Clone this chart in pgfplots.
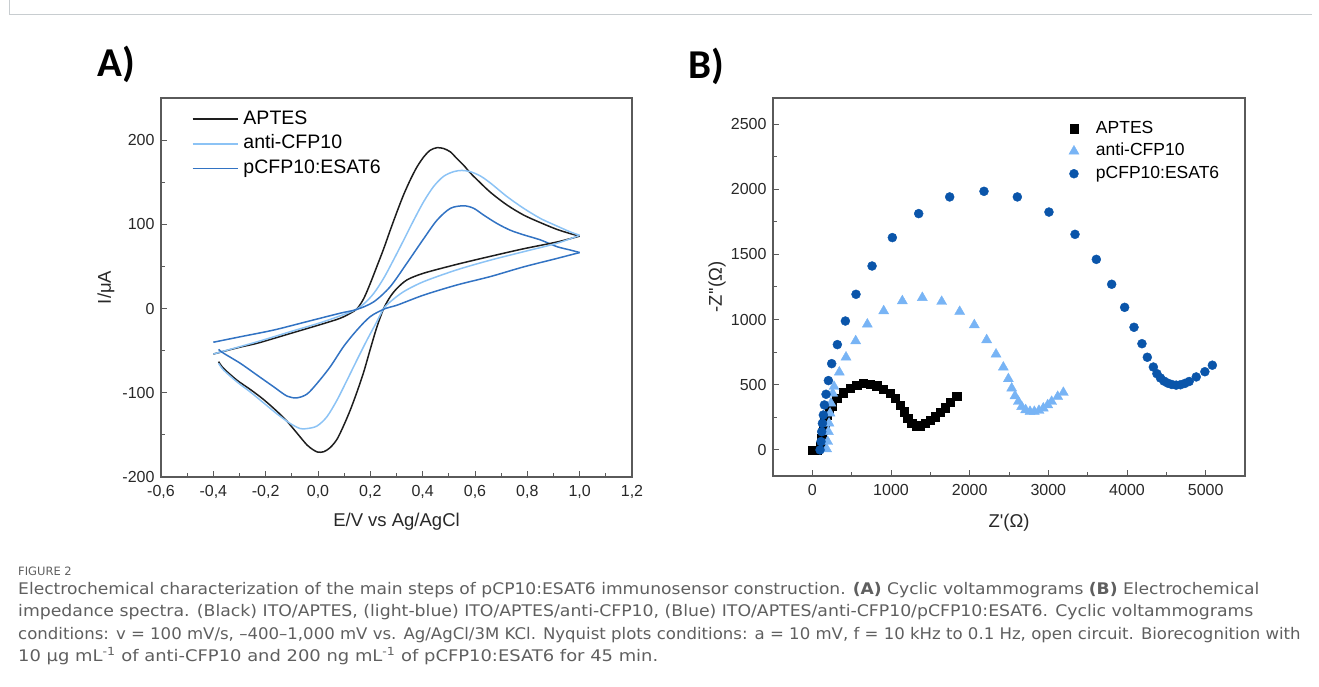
\documentclass[border=0pt]{standalone}
\usepackage{pgfplots}
\pgfplotsset{compat=1.18}
\usepackage{fontspec}
\setmainfont{Liberation Sans}
\newfontfamily\capfont{DejaVu Sans}
\newfontfamily\panelfont{Carlito}

\definecolor{framegray}{RGB}{200,205,208}
\definecolor{axisgray}{RGB}{90,90,90}
\definecolor{labgray}{RGB}{40,40,40}
\definecolor{capgray}{RGB}{95,95,95}
\definecolor{cvblack}{RGB}{30,30,30}
\definecolor{cvlight}{RGB}{140,195,245}
\definecolor{cvblue}{RGB}{50,115,195}
\definecolor{eislight}{RGB}{120,180,245}
\definecolor{eisblue}{RGB}{10,85,170}

\pgfplotsset{
  panel/.style={
    scale only axis,
    axis line style={draw=axisgray, line width=1.3pt},
    tick align=inside, tick pos=left,
    major tick length=6pt, minor tick length=3.5pt,
    every tick/.style={draw=axisgray, line width=1pt},
    minor x tick num=1, minor y tick num=1,
    ticklabel style={font=\fontsize{16}{16}\selectfont, text=labgray},
    xticklabel style={yshift=-5pt},
    yticklabel style={xshift=-3pt},
    label style={font=\fontsize{18.5}{18.5}\selectfont, text=labgray},
    legend cell align=left,
  },
}

\begin{document}
\begin{tikzpicture}[x=1pt,y=1pt]
\path[use as bounding box] (0,0) rectangle (1319,687);
\draw[framegray, line width=1pt] (9.5,687) -- (9.5,672.5) -- (1312,672.5);

\node[anchor=base, inner sep=0pt, font=\panelfont\bfseries\fontsize{41}{41}\selectfont] at (116,610) {A)};
\node[anchor=base, inner sep=0pt, font=\panelfont\bfseries\fontsize{41}{41}\selectfont] at (706,608) {B)};

% ---------- A) cyclic voltammograms ----------
\begin{axis}[panel,
  at={(161pt,210pt)}, anchor=south west, width=471pt, height=379pt,
  xmin=-0.6, xmax=1.2, ymin=-200, ymax=250,
  xtick={-0.6,-0.4,-0.2,0,0.2,0.4,0.6,0.8,1.0,1.2},
  xticklabels={{-0,6},{-0,4},{-0,2},{0,0},{0,2},{0,4},{0,6},{0,8},{1,0},{1,2}},
  ytick={-200,-100,0,100,200},
  yticklabels={-200,-100,0,100,200},
  xlabel={E/V vs Ag/AgCl}, ylabel={I/μA},
  xlabel style={at={(axis description cs:0.5,-0.1187)}, anchor=center},
  ylabel style={at={(axis description cs:-0.1168,0.5)}, anchor=center},
  legend style={at={(axis description cs:0.0658,0.968)}, anchor=north west,
    draw=none, fill=none, inner sep=0pt, outer sep=0pt,
    row sep=6.7pt, column sep=5pt,
    font=\fontsize{19.5}{19.5}\selectfont,
    nodes={inner sep=0pt, text height=14pt, text depth=4pt}},
  legend image code/.code={\draw[#1] (0pt,0pt) -- (45pt,0pt);},
]
% APTES
\addplot[cvblack, line width=1.5pt, smooth, tension=0.5] coordinates {
 (-0.40,-54) (-0.30,-46) (-0.23,-41) (-0.11,-30) (0.02,-18) (0.085,-11.5)
 (0.124,-5.5) (0.15,0) (0.175,12) (0.20,30) (0.225,50) (0.251,71) (0.276,93)
 (0.302,115) (0.327,135) (0.353,153) (0.378,168) (0.404,180) (0.429,188)
 (0.455,191) (0.48,190) (0.506,186) (0.531,178) (0.557,170) (0.582,161)
 (0.608,153) (0.659,138) (0.722,123) (0.786,111) (0.85,102) (0.913,94)
 (0.964,89) (1.0,86)};
\addlegendentry{APTES}
% anti-CFP10
\addplot[cvlight, line width=1.5pt, smooth, tension=0.5] coordinates {
 (-0.40,-54) (-0.233,-39.5) (-0.106,-27.5) (0.022,-15.5) (0.136,-2.5)
 (0.175,5.5) (0.213,18) (0.251,36) (0.289,58) (0.327,81) (0.366,105)
 (0.404,127) (0.442,145) (0.48,157) (0.518,162.5) (0.55,164) (0.582,162.5)
 (0.62,157.5) (0.659,149) (0.722,133) (0.786,119) (0.85,107) (0.913,98)
 (0.964,91) (1.0,87)};
\addlegendentry{anti-CFP10}
% pCFP10:ESAT6
\addplot[cvblue, line width=1.5pt, smooth, tension=0.5] coordinates {
 (-0.40,-40) (-0.297,-33.5) (-0.169,-25.5) (-0.042,-15.5) (0.085,-5.5)
 (0.149,-1) (0.213,8) (0.276,26) (0.34,54) (0.404,83) (0.455,105)
 (0.506,119) (0.557,122) (0.595,119) (0.633,111) (0.684,101) (0.735,93)
 (0.786,87.5) (0.85,81.5) (0.913,73.5) (0.964,69.5) (1.0,66.5)};
\addlegendentry{pCFP10:ESAT6}
% reverse scans
\addplot[cvblack, line width=1.5pt, smooth, tension=0.5, forget plot] coordinates {
 (1.0,86) (0.913,79) (0.786,71) (0.659,62) (0.531,52.5) (0.404,42) (0.34,34)
 (0.302,24) (0.276,14) (0.251,0) (0.225,-22) (0.20,-48) (0.175,-75)
 (0.149,-99) (0.124,-120) (0.098,-139) (0.073,-155) (0.047,-165)
 (0.022,-170) (0.0,-170.5) (-0.017,-168) (-0.042,-162) (-0.08,-148)
 (-0.118,-134) (-0.157,-122) (-0.208,-108) (-0.259,-96) (-0.31,-85)
 (-0.361,-71) (-0.38,-63)};
\addplot[cvlight, line width=1.5pt, smooth, tension=0.5, forget plot] coordinates {
 (1.0,87) (0.913,77.5) (0.786,67.5) (0.659,57.5) (0.531,46) (0.404,32)
 (0.327,20) (0.276,8) (0.251,0) (0.225,-15.5) (0.187,-37.5) (0.149,-61)
 (0.111,-85) (0.073,-108.5) (0.034,-128.5) (-0.004,-139.5) (-0.042,-142.5)
 (-0.068,-142.5) (-0.106,-136.5) (-0.157,-125) (-0.208,-112) (-0.259,-99)
 (-0.31,-87) (-0.361,-73) (-0.38,-65)};
\addplot[cvblue, line width=1.5pt, smooth, tension=0.5, forget plot] coordinates {
 (1.0,66.5) (0.913,59.5) (0.786,49.5) (0.659,38) (0.531,28) (0.404,16)
 (0.302,4) (0.257,0) (0.20,-9.5) (0.149,-25.5) (0.098,-45) (0.047,-69)
 (-0.004,-89) (-0.042,-101.5) (-0.08,-106) (-0.118,-104) (-0.169,-93)
 (-0.233,-79) (-0.297,-65) (-0.361,-53) (-0.38,-48.5)};
\end{axis}

% ---------- B) Nyquist plots ----------
\begin{axis}[panel,
  at={(773pt,211pt)}, anchor=south west, width=472pt, height=378pt,
  xmin=-500, xmax=5500, ymin=-200, ymax=2700,
  xtick={0,1000,2000,3000,4000,5000},
  xticklabels={0,1000,2000,3000,4000,5000},
  ytick={0,500,1000,1500,2000,2500},
  yticklabels={0,500,1000,1500,2000,2500},
  xlabel={Z\textquotesingle(Ω)}, ylabel={-Z\textquotesingle\textquotesingle(Ω)},
  xlabel style={at={(axis description cs:0.5,-0.1243)}, anchor=center},
  ylabel style={at={(axis description cs:-0.1186,0.5)}, anchor=center},
  legend style={at={(axis description cs:0.627,0.9405)}, anchor=north west,
    draw=none, fill=none, inner sep=0pt, outer sep=0pt,
    row sep=6pt, column sep=17pt,
    font=\fontsize{17.5}{17.5}\selectfont,
    nodes={inner sep=0pt, text height=13pt, text depth=3.5pt}},
  legend image code/.code={\draw[mark repeat=2,mark phase=2,#1] plot coordinates {(0pt,0pt) (8pt,0pt) (16pt,0pt)};},
]
\addplot[only marks, mark=square*, mark size=4.2pt, color=black] coordinates {
 (0,0) (55,0) (105,30) (120,90) (135,150) (155,210) (180,265) (215,305)
 (250,335) (310,396) (394,440) (479,473) (564,498) (649,511) (733,506)
 (818,493) (903,468) (987,435) (1051,396) (1115,345) (1165,294) (1212,243)
 (1263,204) (1318,187) (1369,187) (1432,204) (1496,230) (1559,256)
 (1623,289) (1687,325) (1750,366) (1835,414)};
\addlegendentry{APTES}
\addplot[only marks, mark=triangle*, mark size=5.8pt, color=eislight] coordinates {
 (182,7) (195,64) (204,140) (212,204) (225,281) (237,358) (259,434)
 (276,486) (343,596) (428,711) (551,836) (699,964) (907,1066) (1144,1143)
 (1398,1168) (1644,1138) (1873,1061) (2059,959) (2216,844) (2335,734)
 (2428,634) (2492,545) (2534,473) (2576,414) (2619,371) (2661,332)
 (2712,307) (2767,294) (2822,294) (2881,302) (2936,320) (2992,345)
 (3042,371) (3119,409) (3191,440)};
\addlegendentry{anti-CFP10}
\addplot[only marks, mark=*, mark size=4.5pt, color=eisblue] coordinates {
 (98,0) (110,64) (119,140) (128,204) (140,268) (153,345) (174,427)
 (204,532) (246,662) (318,808) (420,989) (555,1194) (759,1411) (1017,1629)
 (1352,1813) (1746,1941) (2182,1984) (2606,1941) (3008,1825) (3339,1654)
 (3610,1462) (3805,1271) (3970,1094) (4089,941) (4190,815) (4258,711)
 (4335,636) (4380,585) (4425,552) (4470,528) (4520,512) (4570,502)
 (4625,497) (4680,500) (4735,510) (4790,525) (4880,560) (4990,600)
 (5085,650)};
\addlegendentry{pCFP10:ESAT6}
\end{axis}

% ---------- caption ----------
\begin{scope}[every node/.style={anchor=base west, inner sep=0pt, text=capgray}]
\node[font=\capfont\fontsize{11.5}{11.5}\selectfont] at (18,111.5) {FIGURE 2};
\node[font=\capfont\fontsize{16}{16}\selectfont] at (18,92) {\scalebox{1.07}[1]{Electrochemical characterization of the main steps of pCP10:ESAT6 immunosensor construction. \textbf{(A)} Cyclic voltammograms \textbf{(B)} Electrochemical}};
\node[font=\capfont\fontsize{16}{16}\selectfont] at (18,70) {\scalebox{1.08}[1]{impedance spectra. (Black) ITO/APTES, (light-blue) ITO/APTES/anti-CFP10, (Blue) ITO/APTES/anti-CFP10/pCFP10:ESAT6. Cyclic voltammograms}};
\node[font=\capfont\fontsize{16}{16}\selectfont] at (18,47) {\scalebox{1.035}[1]{conditions: v = 100 mV/s, –400–1,000 mV vs. Ag/AgCl/3M KCl. Nyquist plots conditions: a = 10 mV, f = 10 kHz to 0.1 Hz, open circuit. Biorecognition with}};
\node[font=\capfont\fontsize{16}{16}\selectfont] at (18,25) {\scalebox{1.12}[1]{10 µg mL\textsuperscript{-1} of anti-CFP10 and 200 ng mL\textsuperscript{-1} of pCFP10:ESAT6 for 45 min.}};
\end{scope}
\end{tikzpicture}
\end{document}
